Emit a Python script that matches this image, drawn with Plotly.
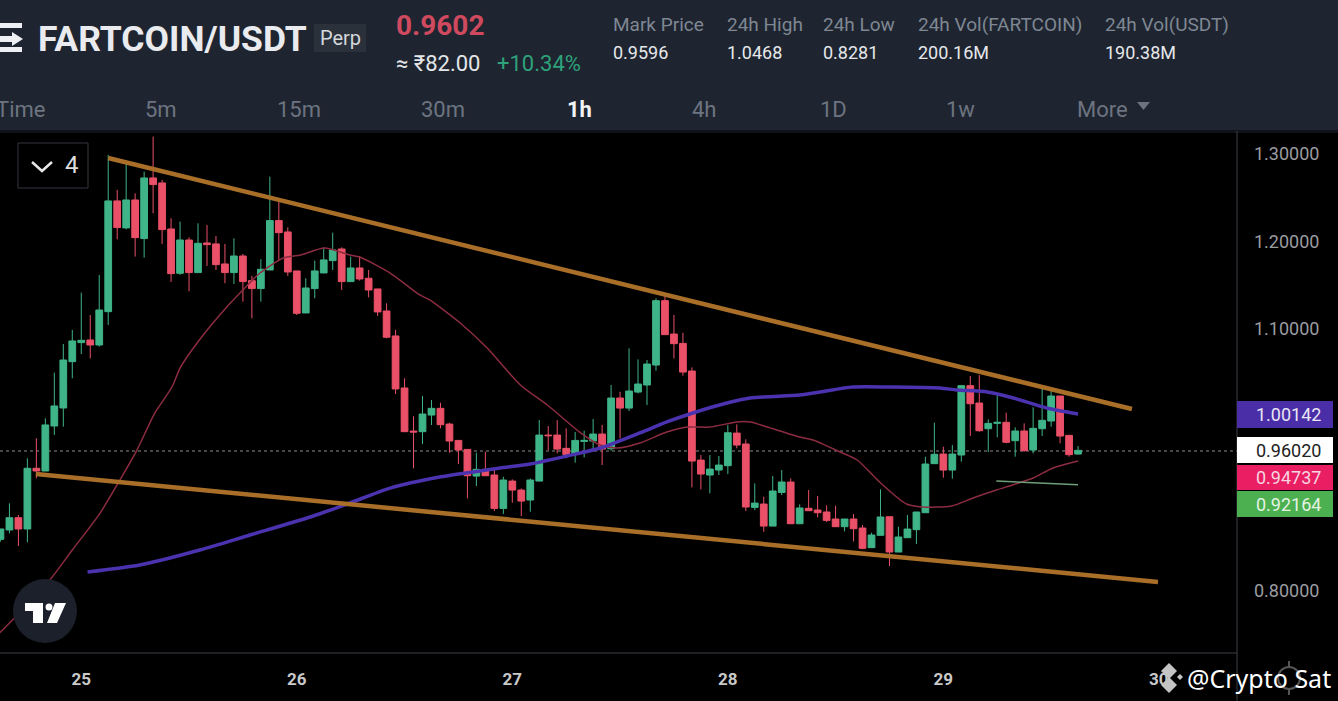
import plotly.graph_objects as go

WIDTH = 1338
HEIGHT = 701

# Candles, one per hour. Hour 0 is the "25" tick
candleHours = list(range(-9, 112))
opens = [
    .8591, .8698, .8839, .8710, .9404, .9373, .9888, 1.0094, 1.0624, 1.0842,
    1.0872, 1.0815, 1.1196, 1.2463, 1.2154, 1.2474, 1.2032, 1.2726, 1.2669, 1.2142,
    1.1635, 1.2016, 1.1643, 1.1982, 1.1971, 1.1742, 1.1643, 1.1833, 1.1551, 1.1460,
    1.1673, 1.2238, 1.2108, 1.1662, 1.1181, 1.1460, 1.1639, 1.1780, 1.1913, 1.1540,
    1.1696, 1.1578, 1.1456, 1.1204, 1.0918, 1.0323, .9830, .9823, 1.0013, 1.0090,
    .9910, .9723, .9620, .9315, .9392, .9327, .8945, .9258, .9155, .9041,
    .9258, .9784, .9784, .9632, .9567, .9712, .9716, .9796, .9628, 1.0208,
    1.0093, 1.0276, 1.0357, 1.0585, 1.1322, 1.0940, 1.0833, 1.0517, .9498, .9327,
    .9384, .9434, .9807, .9682, .8957, .8995, .8743, .9128, .9247, .8770,
    .8946, .8927, .8904, .8824, .8736, .8824, .8721, .8496, .8637, .8850,
    .8446, .8610, .8702, .8896, .9457, .9567, .9384, .9556, 1.0349, 1.0151,
    .9857, .9918, .9930, .9720, .9831, .9613, .9857, .9945, 1.0231, .9781,
    .9567,
]
highs = [
    .8710, .9003, .8870, .9518, .9747, .9976, 1.0498, 1.0826, 1.0987, 1.1414,
    1.1158, 1.1616, 1.2989, 1.2589, 1.2894, 1.2550, 1.2798, 1.3199, 1.2703, 1.2264,
    1.2226, 1.2047, 1.2207, 1.2188, 1.2062, 1.1971, 1.2035, 1.1856, 1.1605, 1.1795,
    1.2741, 1.2474, 1.2161, 1.1662, 1.1578, 1.1780, 1.1932, 1.2100, 1.1932, 1.1826,
    1.1833, 1.1673, 1.1456, 1.1292, 1.0987, 1.0434, .9998, 1.0231, 1.0185, 1.0154,
    .9926, .9727, .9620, .9582, .9594, .9384, .9308, .9277, .9174, .9289,
    .9956, .9887, .9956, .9861, .9819, .9834, .9968, .9899, 1.0357, 1.0280,
    1.0776, 1.0650, 1.0643, 1.1348, 1.1375, 1.1158, 1.0955, 1.0559, .9556, .9556,
    .9544, .9899, .9906, .9735, .9231, .9079, .9315, .9384, .9289, .8992,
    .9156, .9087, .8980, .8976, .8824, .8881, .8755, .8667, .9163, .8850,
    .8736, .8870, .8904, .9537, .9926, .9651, .9670, 1.0357, 1.0460, 1.0471,
    .9964, 1.0243, 1.0040, .9873, .9918, 1.0101, 1.0319, 1.0330, 1.0231, .9781,
    .9659,
]
lows = [
    .8565, .8660, .8515, .8557, .9289, .9373, .9785, .9880, 1.0434, 1.0712,
    1.0662, 1.0796, 1.1044, 1.2024, 1.2138, 1.1826, 1.1814, 1.2322, 1.1971, 1.1536,
    1.1616, 1.1429, 1.1643, 1.1719, 1.1673, 1.1521, 1.1513, 1.1311, 1.1120, 1.1311,
    1.1673, 1.1788, 1.1605, 1.1158, 1.1181, 1.1349, 1.1635, 1.1673, 1.1444, 1.1536,
    1.1551, 1.1360, 1.1147, 1.0891, 1.0254, .9823, .9403, .9682, .9899, .9861,
    .9582, .9453, .9060, .9201, .9319, .8915, .8881, .9010, .8858, .8907,
    .9258, .9613, .9575, .9518, .9468, .9529, .9594, .9441, .9605, .9746,
    1.0059, 1.0261, 1.0128, 1.0521, 1.0933, 1.0662, 1.0463, .9186, .9163, .9117,
    .9327, .9338, .9632, .8915, .8926, .8678, .8743, .9098, .8770, .8770,
    .8919, .8843, .8789, .8736, .8683, .8568, .8477, .8496, .8637, .8286,
    .8446, .8610, .8538, .8896, .9457, .9297, .9285, .9480, .9773, .9823,
    .9590, .9758, .9690, .9537, .9594, .9575, .9773, .9880, .9690, .9537,
    .9560,
]
closes = [
    .8710, .8839, .8710, .9404, .9373, .9900, 1.0117, 1.0643, 1.0861, 1.0868,
    1.0815, 1.1215, 1.2463, 1.2158, 1.2474, 1.2043, 1.2726, 1.2650, 1.2135, 1.1631,
    1.2016, 1.1643, 1.1978, 1.1963, 1.1734, 1.1643, 1.1833, 1.1540, 1.1460, 1.1681,
    1.2238, 1.2100, 1.1650, 1.1177, 1.1467, 1.1662, 1.1788, 1.1902, 1.1540, 1.1696,
    1.1570, 1.1444, 1.1193, 1.0903, 1.0312, .9823, .9819, 1.0025, 1.0090, .9903,
    .9716, .9613, .9319, .9392, .9319, .8945, .9270, .9155, .9029, .9270,
    .9784, .9777, .9624, .9563, .9723, .9723, .9796, .9624, 1.0208, 1.0093,
    1.0288, 1.0368, 1.0597, 1.1322, 1.0933, 1.0830, 1.0505, .9487, .9338, .9395,
    .9441, .9811, .9670, .8961, .9006, .8743, .9144, .9247, .8770, .8950,
    .8919, .8896, .8808, .8736, .8824, .8713, .8488, .8641, .8847, .8446,
    .8618, .8709, .8904, .9453, .9564, .9384, .9567, 1.0349, 1.0143, .9834,
    .9918, .9930, .9701, .9831, .9606, .9861, .9953, 1.0231, .9773, .9560,
    .9609,
]

fastHours = [
    -9.1, -6.8, -3.5, -1.0, 2.1, 4.3, 6.2, 8.2, 10.1, 11.0, 12.9, 16.2, 18.0, 19.9, 22.5, 24.4, 27.1,
    29.9, 31.0, 34.4, 37.7, 38.8, 42.2, 45.2, 48.9, 51.9, 55.5, 57.8, 59.7, 62.2, 65.2, 67.5, 70.0,
    73.0, 74.5, 76.4, 80.0, 81.5, 84.5, 86.4, 88.9, 91.9, 93.7, 96.9, 99.3, 101.9, 103.7, 106.0, 108.2, 111.0,
]
fastValues = [
    .7519, .7760, .8126, .8469, .8892, .9270, .9613, 1.0037, 1.0334, 1.0551, 1.0838, 1.1249, 1.1444, 1.1638, 1.1810, 1.1844, 1.1924,
    1.1844, 1.1822, 1.1638, 1.1387, 1.1330, 1.1066, 1.0780, 1.0357, 1.0128, .9819, .9670, .9636, .9693, .9819, .9876, .9876,
    .9934, .9934, .9876, .9762, .9728, .9590, .9499, .9247, .8995, .8961, .8973, .9064, .9156, .9213, .9293, .9407, .9487,
]
slowHours = [
    0.7, 6.5, 13.2, 18.8, 25.5, 29.9, 34.4, 39.9, 46.6, 50.0, 54.1, 57.8, 62.2,
    65.2, 68.1, 71.9, 74.5, 80.0, 82.3, 85.9, 90.1, 95.6, 97.5, 100.9, 103.8, 107.5, 111.0,
]
slowValues = [
    .8217, .8297, .8469, .8641, .8847, .9007, .9178, .9304, .9407, .9453, .9545, .9636, .9808,
    .9934, 1.0037, 1.0151, 1.0208, 1.0243, 1.0277, 1.0334, 1.0334, 1.0323, 1.0300, 1.0277, 1.0208, 1.0094, 1.0025,
]

# Hand drawn lines on the chart
upperTrendHours = [3.0, 117.0]
upperTrendValues = [1.2954, 1.0082]
lowerTrendHours = [-5.05, 119.9]
lowerTrendValues = [.9339, .8103]
greenLineHours = [101.9, 111.0]
greenLineValues = [.9259, .9216]

# 0.9 and 1.0 sit behind the price tags in the picture
yTicks = [.8, 1.1, 1.2, 1.3]
dayTicks = [0, 24, 48, 72, 96, 120]
dayLabels = ["25", "26", "27", "28", "29", "30"]
lastPrice = .9602

# Header texts
statLabels = ["Mark Price", "24h High", "24h Low", "24h Vol(FARTCOIN)", "24h Vol(USDT)"]
statValues = ["0.9596", "1.0468", "0.8281", "200.16M", "190.38M"]
statLefts = [611, 725, 821, 916, 1103]
tabLabels = ["Time", "5m", "15m", "30m", "1h", "4h", "1D", "1w", "More"]
tabCentres = [20, 161, 299, 443, 579, 704, 833, 960, 1102]

# Price tags on the right: text, fill, text colour, top, bottom
priceTags = [
    ("1.00142", "#4a2ea8", "#e8e4f4", 401, 428),
    ("0.96020", "#ffffff", "#222222", 437, 463),
    ("0.94737", "#e91e63", "#f6d5e0", 465, 490),
    ("0.92164", "#4caf50", "#e3f3e4", 491, 517),
]

FONT = "Roboto"
HEADER_BG = "#1e2530"
GREEN = "#3fb488"
RED = "#ea5068"
ORANGE = "#a96f28"


def px(x):
    return x / WIDTH


def py(y):
    return 1 - y / HEIGHT


def polygon(points):
    """
    Helper function to turn pixel points into a closed SVG path in paper units
    """
    parts = [("M" if i == 0 else "L") + "%.5f,%.5f" % (px(x), py(y)) for i, (x, y) in enumerate(points)]
    return " ".join(parts) + " Z"


def pixelShape(kind, x0, y0, x1, y1, **kwargs):
    return dict(type=kind, xref="paper", yref="paper", x0=px(x0), y0=py(y0), x1=px(x1), y1=py(y1), **kwargs)


def pathShape(points, fill):
    return dict(type="path", xref="paper", yref="paper", path=polygon(points),
                fillcolor=fill, line=dict(width=0))


def lineShape(x0, y0, x1, y1, color, width=1):
    return pixelShape("line", x0, y0, x1, y1, line=dict(color=color, width=width))


def label(text, x, y, size, color, anchor="left", weight=400, family=FONT):
    return dict(text=text, x=px(x), y=py(y), xref="paper", yref="paper", xanchor=anchor, yanchor="middle",
                showarrow=False, font=dict(family=family, size=size, color=color, weight=weight))


fig = go.Figure()

fig.add_trace(go.Scatter(x=fastHours, y=fastValues, mode="lines",
                         line=dict(color="#8c2c41", width=1.5, shape="spline", smoothing=0.7)))
fig.add_trace(go.Scatter(x=slowHours, y=slowValues, mode="lines",
                         line=dict(color="#4b32ae", width=3.5, shape="spline", smoothing=0.7)))
fig.add_trace(go.Scatter(x=upperTrendHours, y=upperTrendValues, mode="lines", line=dict(color=ORANGE, width=4.5)))
fig.add_trace(go.Scatter(x=lowerTrendHours, y=lowerTrendValues, mode="lines", line=dict(color=ORANGE, width=4.5)))
fig.add_trace(go.Scatter(x=greenLineHours, y=greenLineValues, mode="lines", line=dict(color="#6f9f78", width=1.5)))
fig.add_trace(go.Candlestick(
    x=candleHours, open=opens, high=highs, low=lows, close=closes, whiskerwidth=0,
    increasing=dict(line=dict(color=GREEN, width=1), fillcolor=GREEN),
    decreasing=dict(line=dict(color=RED, width=1), fillcolor=RED),
))

shapes = [
    # Header, axis borders and last price line
    pixelShape("rect", 0, 0, WIDTH, 130, fillcolor=HEADER_BG, line=dict(width=0)),
    pixelShape("rect", 0, 130, WIDTH, 133, fillcolor="#0f1319", line=dict(width=0)),
    lineShape(1237, 131, 1237, HEIGHT, "#3c3f44"),
    lineShape(0, 653, 1237, 653, "#3c3f44"),
    dict(type="line", xref="paper", yref="y", x0=0, x1=px(1237), y0=lastPrice, y1=lastPrice, layer="below",
         line=dict(color="#8a8a8a", width=1, dash="dot")),
    # Exchange logo
    pathShape([(0, 23), (22, 23), (22, 28), (0, 28)], "#eef0f3"),
    pathShape([(0, 36), (12, 36), (12, 32), (23, 39), (12, 46), (12, 42), (0, 42)], "#eef0f3"),
    pathShape([(0, 47), (22, 47), (22, 52), (0, 52)], "#eef0f3"),
    # Perp badge
    pixelShape("rect", 314, 24, 366, 52, fillcolor="#2a313b", line=dict(width=0)),
    # More arrow
    pathShape([(1137, 102), (1150, 102), (1143.5, 110)], "#6d7480"),
    # Collapse button
    pixelShape("rect", 18, 143, 88, 188, fillcolor="rgba(0,0,0,0)", line=dict(color="#34373c", width=1)),
    dict(type="path", xref="paper", yref="paper", line=dict(color="#e8e8e8", width=2.5),
         path="M%.5f,%.5f L%.5f,%.5f L%.5f,%.5f" % (px(32), py(162), px(42), py(171), px(52), py(162))),
    # Chart logo
    pixelShape("circle", 13, 579, 77, 643, fillcolor="#1c202b", line=dict(width=0)),
    pathShape([(25, 603), (43, 603), (43, 623), (33, 623), (33, 611), (25, 611)], "#ffffff"),
    pixelShape("circle", 45.5, 603.5, 52.5, 610.5, fillcolor="#ffffff", line=dict(width=0)),
    pathShape([(55, 603), (66, 603), (57, 623), (47, 623)], "#ffffff"),
    # Watermark logo and gear
    pathShape([(1169, 663), (1177, 671), (1169, 679), (1161, 671)], "#c4c4c4"),
    pathShape([(1169, 677), (1177, 685), (1169, 693), (1161, 685)], "#c4c4c4"),
    pathShape([(1180, 674), (1183, 677), (1180, 680), (1177, 677)], "#c4c4c4"),
    pixelShape("circle", 1278, 667, 1300, 689, fillcolor="rgba(0,0,0,0)", line=dict(color="#555555", width=2)),
    lineShape(1289, 661, 1289, 667, "#555555", 2),
    lineShape(1289, 689, 1289, 695, "#555555", 2),
]
for text, fill, color, top, bottom in priceTags:
    shapes.append(pixelShape("rect", 1237, top, 1333, bottom, fillcolor=fill, line=dict(width=0)))

annotations = [
    label("FARTCOIN/USDT", 36, 39, 35.5, "#e9ebef", weight=700),
    label("Perp", 340, 38, 20, "#d5d8dc", anchor="center"),
    label("0.9602", 394, 25, 28, "#cf4a5f", weight=700),
    label("≈ ₹82.00", 394, 63, 22, "#e3e5e8"),
    label("+10.34%", 495, 63, 22, "#2ea27a"),
    label("4", 72, 165, 24, "#dddddd", anchor="center"),
    label("@Crypto Sat", 1185, 678, 25, "#ffffff", family="Noto Sans"),
]
for text, value, left in zip(statLabels, statValues, statLefts):
    annotations.append(label(text, left, 24, 19, "#7f8793"))
    annotations.append(label(value, left, 52, 18, "#e6e8eb"))
for text, centre in zip(tabLabels, tabCentres):
    selected = text == "1h"
    annotations.append(label(text, centre, 109, 22, "#f2f3f5" if selected else "#6d7480", anchor="center",
                             weight=700 if selected else 400))
for text, fill, color, top, bottom in priceTags:
    annotations.append(label(text, 1288, (top + bottom) / 2, 18, color, anchor="center"))

fig.update_layout(
    width=WIDTH, height=HEIGHT, margin=dict(l=0, r=0, t=0, b=0), showlegend=False,
    paper_bgcolor="#000000", plot_bgcolor="#000000", hovermode=False, boxgap=0.25, boxgroupgap=0,
    shapes=shapes, annotations=annotations,
)
fig.update_xaxes(
    domain=[0, 1237 / WIDTH], range=[-9.05, 128.7], rangeslider=dict(visible=False), showgrid=False, zeroline=False,
    tickvals=dayTicks, ticktext=dayLabels, ticks="", ticklabelstandoff=14,
    tickfont=dict(family=FONT, size=17, color="#c9c9c9", weight=700),
)
fig.update_yaxes(
    domain=[1 - 653 / HEIGHT, 1 - 133 / HEIGHT], range=[.7291, 1.324], side="right", showgrid=False, zeroline=False,
    tickvals=yTicks, tickformat=".5f", ticks="", ticklabelstandoff=16,
    tickfont=dict(family=FONT, size=18, color="#9a9ca0"),
)

# The page has a default margin around the plot
fig.write_html("out.html", config={"displayModeBar": False},
               post_script="document.body.style.margin='0';document.body.style.background='#000';")
